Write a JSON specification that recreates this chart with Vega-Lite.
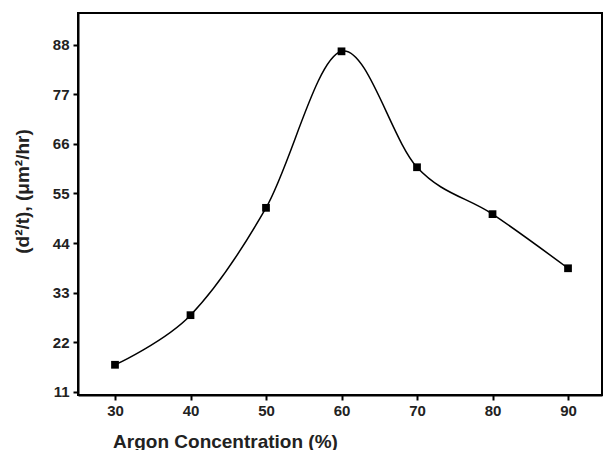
{
  "$schema": "https://vega.github.io/schema/vega-lite/v6.json",
  "width": 524,
  "height": 382,
  "autosize": {"type": "none"},
  "padding": {"left": 78, "top": 13, "right": 2, "bottom": 55},
  "background": "white",
  "config": {
    "view": {"stroke": "black", "strokeWidth": 2},
    "axis": {
      "domainColor": "black", "domainWidth": 2,
      "tickColor": "black", "tickWidth": 2, "tickSize": 5,
      "labelFont": "Liberation Sans", "labelFontWeight": "bold", "labelFontSize": 15, "labelColor": "#222",
      "titleFont": "Liberation Sans", "titleFontWeight": "bold", "titleFontSize": 19, "titleColor": "#222",
      "grid": false
    }
  },
  "data": {"values": [
    {"argon": 30, "rate": 17},
    {"argon": 40, "rate": 28},
    {"argon": 50, "rate": 51.8},
    {"argon": 60, "rate": 86.5},
    {"argon": 70, "rate": 60.8},
    {"argon": 80, "rate": 50.4},
    {"argon": 90, "rate": 38.4}
  ]},
  "encoding": {
    "x": {"field": "argon", "type": "quantitative",
      "scale": {"domain": [25.1, 94.5], "nice": false, "zero": false},
      "axis": {"values": [30, 40, 50, 60, 70, 80, 90], "title": "Argon Concentration (%)",
        "labelPadding": 3, "titleX": 147, "titleY": 52, "titleBaseline": "alphabetic", "titleAnchor": "middle"}},
    "y": {"field": "rate", "type": "quantitative",
      "scale": {"domain": [10.3, 95], "nice": false, "zero": false},
      "axis": {"values": [11, 22, 33, 44, 55, 66, 77, 88], "title": "(d²/t), (μm²/hr)",
        "labelPadding": 4, "titleX": -56, "titleY": 178, "titleBaseline": "middle"}}
  },
  "layer": [
    {"mark": {"type": "line", "interpolate": "cardinal", "color": "black", "strokeWidth": 1.5}},
    {"mark": {"type": "point", "shape": "square", "filled": true, "size": 60, "color": "black", "opacity": 1}}
  ]
}
